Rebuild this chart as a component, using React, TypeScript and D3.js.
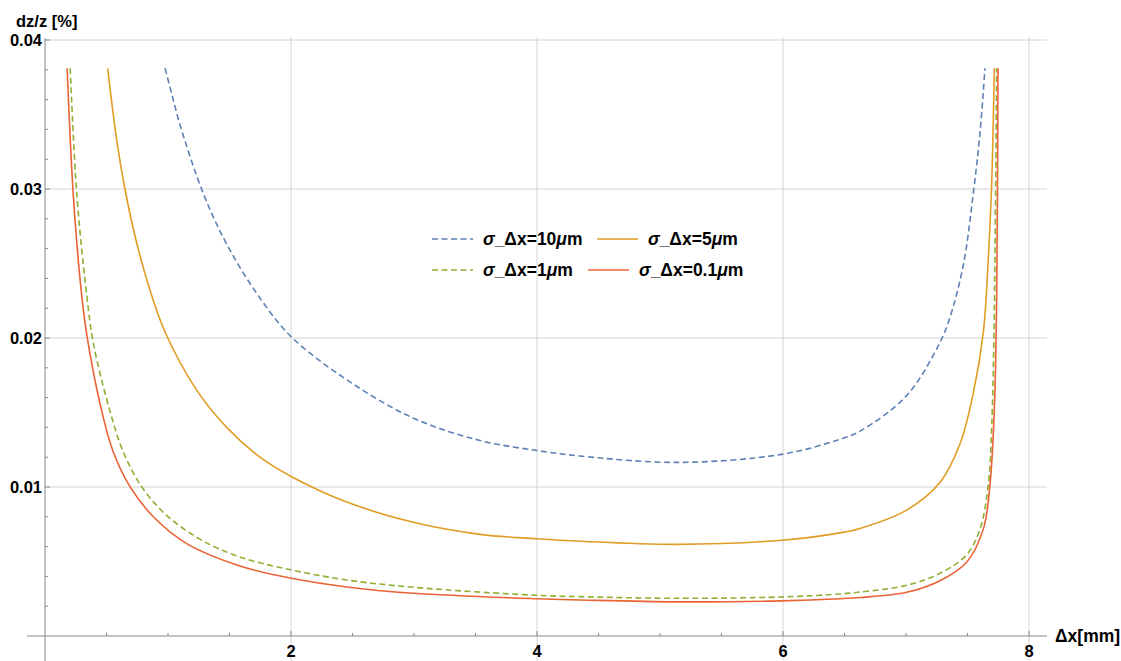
import React from "react";
import * as d3 from "d3";

// Relative depth error dz/z [%] against baseline Δx [mm] for four σ_Δx values
const xs10 = [0.976, 1.03, 1.098, 1.287, 1.477, 1.721, 2.0, 2.453, 2.995, 3.537, 3.997, 4.35, 5.136, 5.989, 6.463, 6.626, 7.005, 7.276, 7.358, 7.466, 7.547, 7.602, 7.642];
const ys10 = [0.0381, 0.0364, 0.0343, 0.0297, 0.0263, 0.023, 0.0201, 0.0172, 0.01462, 0.01312, 0.01245, 0.01208, 0.01165, 0.01219, 0.0132, 0.01375, 0.01613, 0.0197, 0.0214, 0.0249, 0.0297, 0.0338, 0.0381];

const xs5 = [0.509, 0.583, 0.65, 0.745, 0.854, 0.976, 1.233, 1.477, 1.748, 2.005, 2.453, 2.995, 3.537, 3.997, 4.35, 5.136, 5.989, 6.463, 6.626, 7.005, 7.276, 7.439, 7.547, 7.629, 7.669, 7.696, 7.718];
const ys5 = [0.0381, 0.0333, 0.03, 0.0264, 0.0232, 0.0204, 0.0165, 0.014, 0.012, 0.01069, 0.00899, 0.00763, 0.00682, 0.00653, 0.00636, 0.00615, 0.00643, 0.00692, 0.00722, 0.00845, 0.0103, 0.0129, 0.0163, 0.0204, 0.0253, 0.0302, 0.0381];

const xs1 = [0.205, 0.258, 0.339, 0.393, 0.528, 0.637, 0.786, 0.989, 1.26, 1.585, 2.005, 2.453, 2.995, 3.997, 4.35, 5.136, 5.989, 6.463, 6.626, 7.005, 7.276, 7.493, 7.602, 7.669, 7.696, 7.715, 7.726, 7.737];
const ys1 = [0.0381, 0.0297, 0.0229, 0.01965, 0.0151, 0.01235, 0.01002, 0.0081, 0.0065, 0.0053, 0.00443, 0.00376, 0.00327, 0.00273, 0.00264, 0.00253, 0.00262, 0.00282, 0.00295, 0.0034, 0.00421, 0.00545, 0.00719, 0.01017, 0.0139, 0.0201, 0.0276, 0.0381];

const xs01 = [0.18, 0.23, 0.298, 0.352, 0.461, 0.555, 0.691, 0.881, 1.152, 1.585, 2.005, 2.453, 2.995, 3.997, 4.35, 5.136, 5.989, 6.463, 6.626, 7.005, 7.276, 7.493, 7.629, 7.683, 7.718, 7.737, 7.748];
const ys01 = [0.0381, 0.0296, 0.0229, 0.0196, 0.0151, 0.01235, 0.01002, 0.008, 0.0062, 0.0047, 0.00387, 0.00329, 0.00287, 0.0025, 0.00242, 0.00229, 0.00236, 0.0025, 0.00258, 0.00293, 0.00371, 0.00495, 0.00719, 0.01017, 0.01514, 0.0226, 0.0381];

const seriesNames = ["10", "5", "1", "0.1"];
const seriesColors = ["#5E81B5", "#E19C24", "#8FB032", "#EB6235"];
const seriesDashed = [true, false, true, false];
const seriesX = [xs10, xs5, xs1, xs01];
const seriesY = [ys10, ys5, ys1, ys01];

const xTicks = [2, 4, 6, 8];
const yTicks = [0.01, 0.02, 0.03, 0.04];
const yTickLabels = ["0.01", "0.02", "0.03", "0.04"];

const W = 1121;
const H = 661;
const FONT = "'Liberation Sans', Arial, sans-serif";

export default function App() {
  const x = d3.scaleLinear().domain([0, 8]).range([45, 1029]);
  const y = d3.scaleLinear().domain([0, 0.04]).range([636, 40]);

  const plotLeft = 27;
  const plotRight = 1047;
  const plotTop = 37;
  const plotBottom = H;

  const line = d3
    .line<[number, number]>()
    .x((d) => x(d[0]))
    .y((d) => y(d[1]))
    .curve(d3.curveCatmullRom.alpha(0.5));

  const xMinor = d3.range(0.5, 8.01, 0.5).filter((v) => Math.abs(v % 2) > 1e-6);
  const yMinor = d3.range(0.002, 0.0401, 0.002).filter((v) => Math.abs(Math.round(v * 1000) % 10) > 1e-6);

  const axisColor = "#8a8a8a";
  const gridColor = "#d4d4d4";

  // legend layout: two columns, two rows
  const legendRows = [239, 270];
  const legendCols = [
    [432, 597],
    [432, 588],
  ];

  return (
    <svg
      width={W}
      height={H}
      style={{ position: "absolute", left: 0, top: 0, background: "#fff" }}
      fontFamily={FONT}
    >
      <defs>
        <clipPath id="plot-clip">
          <rect x={plotLeft} y={plotTop} width={plotRight - plotLeft} height={plotBottom - plotTop} />
        </clipPath>
      </defs>

      {/* grid */}
      {xTicks.map((t) => (
        <line key={"gx" + t} x1={x(t)} x2={x(t)} y1={plotTop} y2={plotBottom} stroke={gridColor} strokeWidth={1} />
      ))}
      {yTicks.map((t) => (
        <line key={"gy" + t} x1={x(0)} x2={plotRight} y1={y(t)} y2={y(t)} stroke={gridColor} strokeWidth={1} />
      ))}

      {/* axes */}
      <line x1={plotLeft} x2={plotRight} y1={y(0)} y2={y(0)} stroke={axisColor} strokeWidth={1} />
      <line x1={x(0)} x2={x(0)} y1={plotTop + 1} y2={plotBottom} stroke={axisColor} strokeWidth={1} />

      {/* ticks */}
      {xTicks.map((t) => (
        <line key={"tx" + t} x1={x(t)} x2={x(t)} y1={y(0)} y2={y(0) - 5} stroke={axisColor} />
      ))}
      {xMinor.map((t) => (
        <line key={"mx" + t} x1={x(t)} x2={x(t)} y1={y(0)} y2={y(0) - 3} stroke={axisColor} />
      ))}
      {yTicks.map((t) => (
        <line key={"ty" + t} x1={x(0)} x2={x(0) + 5} y1={y(t)} y2={y(t)} stroke={axisColor} />
      ))}
      {yMinor.map((t) => (
        <line key={"my" + t} x1={x(0)} x2={x(0) + 3} y1={y(t)} y2={y(t)} stroke={axisColor} />
      ))}

      {/* tick labels */}
      {xTicks.map((t) => (
        <text key={"lx" + t} x={x(t)} y={657} textAnchor="middle" fontSize={16.5} fontWeight="bold" fill="#000">
          {t}
        </text>
      ))}
      {yTicks.map((t, i) => (
        <text key={"ly" + t} x={42} y={y(t) + 6} textAnchor="end" fontSize={16.5} fontWeight="bold" fill="#000">
          {yTickLabels[i]}
        </text>
      ))}

      {/* axis labels */}
      <text x={16} y={27} fontSize={16.5} fontWeight="bold" fill="#000">
        dz/z [%]
      </text>
      <text x={1055} y={642} fontSize={17.5} fontWeight="bold" fill="#000">
        Δx[mm]
      </text>

      {/* curves */}
      <g clipPath="url(#plot-clip)">
        {seriesNames.map((name, i) => {
          const pts = seriesX[i].map((v, j) => [v, seriesY[i][j]] as [number, number]);
          return (
            <path
              key={"c" + name}
              d={line(pts) || ""}
              fill="none"
              stroke={seriesColors[i]}
              strokeWidth={1.6}
              strokeDasharray={seriesDashed[i] ? "6,3.5" : undefined}
            />
          );
        })}
      </g>

      {/* legend */}
      {seriesNames.map((name, i) => {
        const row = Math.floor(i / 2);
        const col = i % 2;
        const sx = legendCols[row][col];
        const sy = legendRows[row];
        return (
          <g key={"lg" + name}>
            <line
              x1={sx}
              x2={sx + 41}
              y1={sy}
              y2={sy}
              stroke={seriesColors[i]}
              strokeWidth={1.6}
              strokeDasharray={seriesDashed[i] ? "6,3.5" : undefined}
            />
            <text x={sx + 51} y={sy + 6} fontSize={17.5} fontWeight="bold" fill="#000">
              <tspan fontStyle="italic">σ</tspan>
              <tspan>_Δx={name}</tspan>
              <tspan fontStyle="italic">μ</tspan>
              <tspan>m</tspan>
            </text>
          </g>
        );
      })}
    </svg>
  );
}
